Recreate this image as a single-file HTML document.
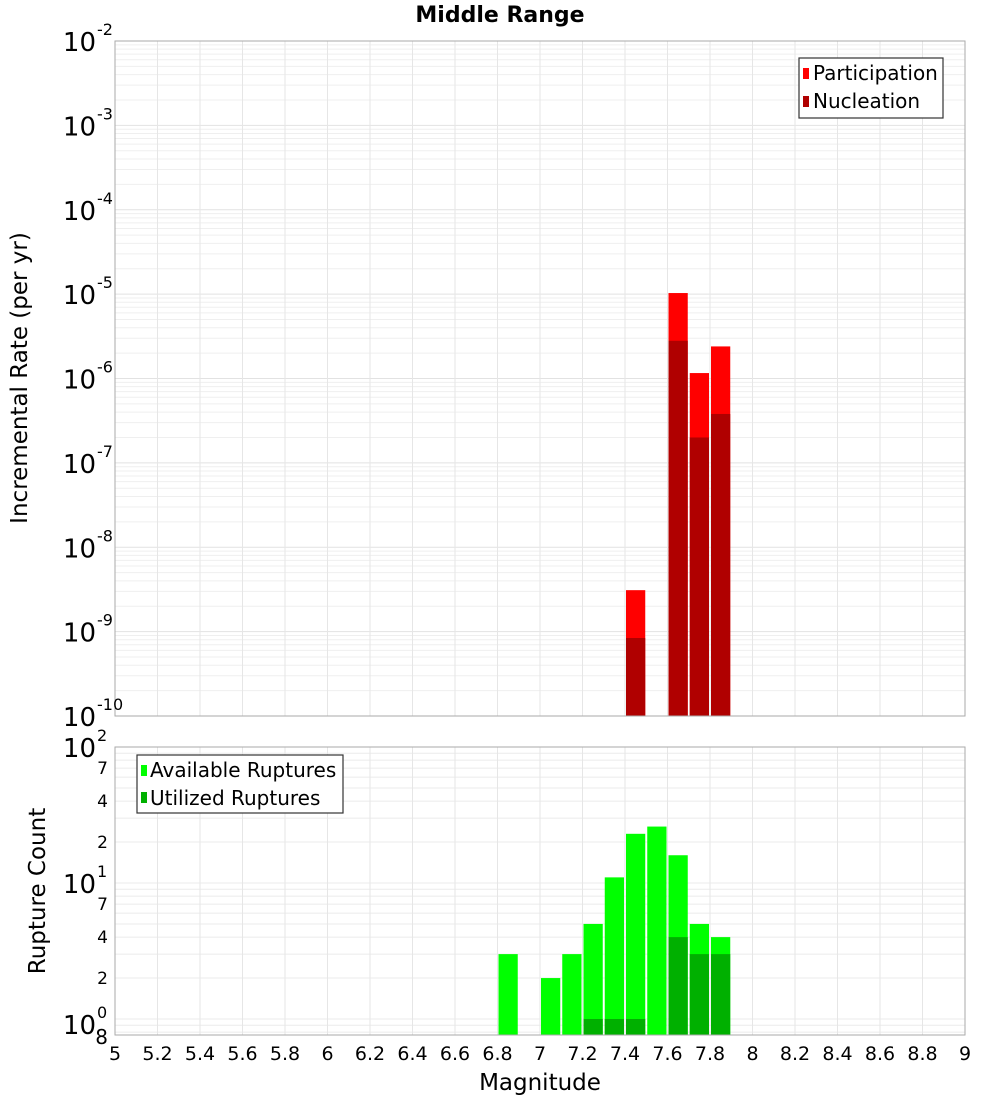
<!DOCTYPE html>
<html><head><meta charset="utf-8"><style>
body{margin:0;background:#fff;}
svg text{font-family:"DejaVu Sans","Liberation Sans",sans-serif;}
</style></head><body>
<svg id="c" width="1000" height="1100" xmlns="http://www.w3.org/2000/svg">
<text x="500" y="22" text-anchor="middle" font-size="22" font-weight="bold">Middle Range</text>
<g id="topPlot"></g>
<g id="botPlot"></g>
<text transform="translate(27,378) rotate(-90)" text-anchor="middle" font-size="23">Incremental Rate (per yr)</text>
<text transform="translate(45,891) rotate(-90)" text-anchor="middle" font-size="23">Rupture Count</text>
<text x="540" y="1090" text-anchor="middle" font-size="23">Magnitude</text>
<g>
<rect x="799" y="58" width="144" height="60" fill="#fff" stroke="#333" stroke-width="1.2"/>
<rect x="803" y="68" width="6" height="11" fill="#ff0000"/>
<text x="813" y="80" font-size="20">Participation</text>
<rect x="803" y="96" width="6" height="11" fill="#b00000"/>
<text x="813" y="108" font-size="20">Nucleation</text>
</g>
<g>
<rect x="137" y="755" width="206" height="58" fill="#fff" stroke="#333" stroke-width="1.2"/>
<rect x="141" y="765" width="6" height="11" fill="#00ff00"/>
<text x="150" y="777" font-size="20">Available Ruptures</text>
<rect x="141" y="792" width="6" height="11" fill="#00b000"/>
<text x="150" y="805" font-size="20">Utilized Ruptures</text>
</g>
</svg>
<script>
const mags=[7.4,7.6,7.7,7.8];
const participation=[3.1e-9,1.03e-5,1.16e-6,2.4e-6];
const nucleation=[8.4e-10,2.8e-6,2.0e-7,3.8e-7];
const cmags=[6.8,7.0,7.1,7.2,7.3,7.4,7.5,7.6,7.7,7.8];
const available=[3,2,3,5,11,23,26,16,5,4];
const utilized=[0,0,0,1,1,1,0,4,3,3];
const xTicks=[5,5.2,5.4,5.6,5.8,6,6.2,6.4,6.6,6.8,7,7.2,7.4,7.6,7.8,8,8.2,8.4,8.6,8.8,9];
const topExps=[-2,-3,-4,-5,-6,-7,-8,-9,-10];
const botMinor=[7,4,2];
const NS="http://www.w3.org/2000/svg";
const L=115,R=965,T1=41,B1=716,T2=747,B2=1035;
const x=m=>L+(m-5)*(R-L)/4;
const y1=v=>T1+(-2-Math.log10(v))*(B1-T1)/8;
const y2=v=>T2+(2-Math.log10(v))*136;
function mk(p,t,a){const e=document.createElementNS(NS,t);for(const k in a)e.setAttribute(k,a[k]);p.appendChild(e);return e;}
const gTop=document.getElementById('topPlot'),gBot=document.getElementById('botPlot');
const svgRoot=document.getElementById('c');
for(let d=-10;d<-2;d++)for(let k=1;k<10;k++){const yy=y1(k*Math.pow(10,d));const g=mk(gTop,'line',{x1:L,x2:R,y1:yy,y2:yy,stroke:k==1?'#e2e2e2':'#efefef','stroke-width':1});

}
for(let d=-1;d<2;d++)for(let k=1;k<10;k++){const yy=y2(k*Math.pow(10,d));if(yy>B2||yy<T2)continue;const g=mk(gBot,'line',{x1:L,x2:R,y1:yy,y2:yy,stroke:'#ebebeb','stroke-width':1});

}
xTicks.forEach(t=>{[[gTop,T1,B1],[gBot,T2,B2]].forEach(([p,a,b])=>{const g=mk(p,'line',{x1:x(t),x2:x(t),y1:a,y2:b,stroke:'#e6e6e6'});

});
const tx=mk(svgRoot,'text',{x:x(t),y:1060,'text-anchor':'middle','font-size':19});tx.textContent=String(t);

});
const bw=(R-L)/40;
function bar(p,m,ya,yb,col,name){const r=mk(p,'rect',{x:x(m)+1,y:ya,width:bw-2,height:yb-ya,fill:col});

}
mags.forEach((m,i)=>{bar(gTop,m,y1(participation[i]),B1,'#ff0000','participation-bar');bar(gTop,m,y1(nucleation[i]),B1,'#b00000','nucleation-bar');});
cmags.forEach((m,i)=>{bar(gBot,m,y2(available[i]),B2,'#00ff00','available-bar');if(utilized[i]>0)bar(gBot,m,y2(utilized[i]),B2,'#00b000','utilized-bar');});
[[gTop,T1,B1],[gBot,T2,B2]].forEach(([p,a,b])=>{const f=mk(p,'rect',{x:L,y:a,width:R-L,height:b-a,fill:'none',stroke:'#aaa','stroke-width':1});

});
function pow(p,yy,e,name){const t=mk(p,'text',{x:96,y:yy+10,'text-anchor':'end','font-size':26});t.textContent='10';


const s=mk(p,'text',{x:97,y:yy-6,'font-size':16});s.textContent=String(e);}
topExps.forEach(e=>pow(gTop,y1(Math.pow(10,e)),e,'y-tick-label'));
pow(gBot,y2(100),2,'y-tick-label');pow(gBot,y2(10),1,'y-tick-label');pow(gBot,y2(1)+5,0,'y-tick-label');
[10,1].forEach(d=>botMinor.forEach(k=>{const t=mk(gBot,'text',{x:108,y:y2(k*d)+6,'text-anchor':'end','font-size':17});t.textContent=String(k);

}));
const t8=mk(gBot,'text',{x:108,y:1044,'text-anchor':'end','font-size':20});t8.textContent='8';


</script>
</body></html>
